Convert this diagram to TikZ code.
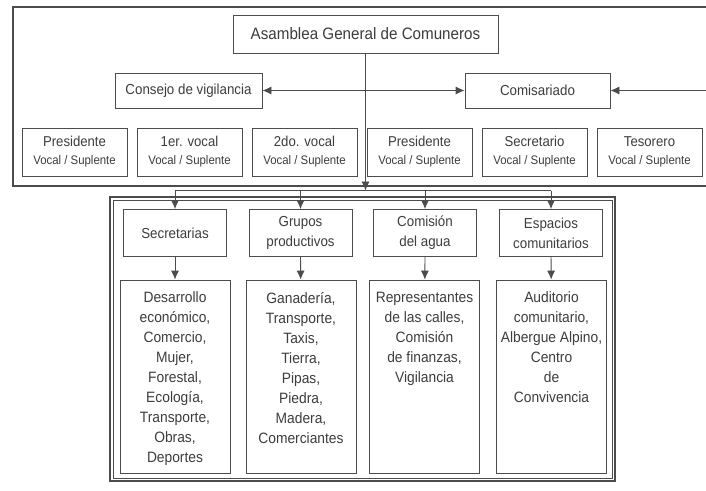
\documentclass[tikz,border=0pt]{standalone}
\usepackage{fontspec}
\setmainfont{Liberation Sans}[FakeStretch=0.92]
\usetikzlibrary{arrows.meta}
\definecolor{ink}{gray}{0.24}
\definecolor{edge}{gray}{0.30}
\newcommand\vsl{\fontsize{12.4}{14}\selectfont Vocal / Suplente}
\newcommand\lbox[1]{\parbox[c][193pt][t]{110pt}{\centering\vspace*{12pt}#1}}
\begin{document}
\begin{tikzpicture}[x=1pt,y=-1pt,
  box/.style={draw=edge, line width=0.8pt, text=ink, inner sep=0pt, align=center},
  lab/.style={box, font=\fontsize{14.5}{20}\selectfont},
  office/.style={box, minimum width=105pt, minimum height=48pt, font=\fontsize{14.3}{18}\selectfont},
  unit/.style={lab, minimum width=103pt, minimum height=47pt},
  list/.style={box, font=\fontsize{15}{20}\selectfont},
  arr/.style={draw=edge, line width=0.8pt, -{Latex[length=9pt,width=8pt]}},
  darr/.style={draw=edge, line width=0.8pt, {Latex[length=9pt,width=8pt]}-{Latex[length=9pt,width=8pt]}},
  link/.style={draw=edge, line width=0.8pt},
  frame/.style={draw=edge, line width=1.6pt},
  thinframe/.style={draw=edge, line width=0.6pt}
]
\useasboundingbox (0,0) rectangle (706,490);
\fill[white] (0,0) rectangle (706,490);

% top frame
\coordinate (ftr) at (706,7);
\coordinate (ftl) at (13,7);
\coordinate (fbl) at (13,186);
\coordinate (fbr) at (706,186);
\draw[frame] (ftr) -- (ftl) -- (fbl) -- (fbr);

% bottom frame (double line)
\coordinate (gtl) at (110,197);
\coordinate (gbr) at (615,481);
\coordinate (htl) at (113,200);
\coordinate (hbr) at (612,478);
\draw[frame] (gtl) rectangle (gbr);
\draw[thinframe] (htl) rectangle (hbr);

% top nodes
\node[lab, minimum width=265pt, minimum height=38pt, font=\fontsize{16.5}{20}\selectfont] (asam) at (365.5,34) {Asamblea General de Comuneros};
\node[lab, minimum width=147pt, minimum height=35pt] (consejo) at (188.5,90.5) {Consejo de vigilancia};
\node[lab, minimum width=145pt, minimum height=35pt] (comis) at (537.5,90.5) {Comisariado};

\node[office] (o1) at (74.5,152) {Presidente\\\vsl};
\node[office] (o2) at (189.5,152) {1er. vocal\\\vsl};
\node[office] (o3) at (304.5,152) {2do. vocal\\\vsl};
\node[office] (o4) at (419.5,152) {Presidente\\\vsl};
\node[office] (o5) at (534.5,152) {Secretario\\\vsl};
\node[office] (o6) at (649.5,152) {Tesorero\\\vsl};

\draw[darr] (consejo) -- (comis);
\coordinate (redge) at (706,90.5);
\draw[arr] (redge) -- (comis.east);

% second row
\node[unit] (u1) at (175,233) {Secretarias};
\node[unit] (u2) at (300.5,233) {Grupos\\productivos};
\node[unit] (u3) at (425,233) {Comisión\\del agua};
\node[unit] (u4) at (551,233) {Espacios\\comunitarios};

% third row
\node[list] (l1) at (175,376.5) {\lbox{Desarrollo\\económico,\\Comercio,\\Mujer,\\Forestal,\\Ecología,\\Transporte,\\Obras,\\Deportes}};
\node[list] (l2) at (301,376.5) {\lbox{Ganadería,\\Transporte,\\Taxis,\\Tierra,\\Pipas,\\Piedra,\\Madera,\\Comerciantes}};
\node[list] (l3) at (424.5,376.5) {\lbox{Representantes\\de las calles,\\Comisión\\de finanzas,\\Vigilancia}};
\node[list] (l4) at (551.5,376.5) {\lbox{Auditorio\\comunitario,\\Albergue Alpino,\\Centro\\de\\Convivencia}};

% bus
\coordinate (bus) at (363,190.5);
\coordinate (busL) at (175,190.5);
\coordinate (busR) at (551,190.5);
\draw[arr] (asam.south) -- (asam.south |- bus);
\draw[link] (busL) -- (busR);
\foreach \u in {u1,u2,u3,u4}{
  \draw[arr] (\u.north |- busL) -- (\u.north);
}
\draw[arr] (u1) -- (l1);
\draw[arr] (u2) -- (l2);
\draw[arr] (u3) -- (l3);
\draw[arr] (u4) -- (l4);
\end{tikzpicture}
\end{document}
